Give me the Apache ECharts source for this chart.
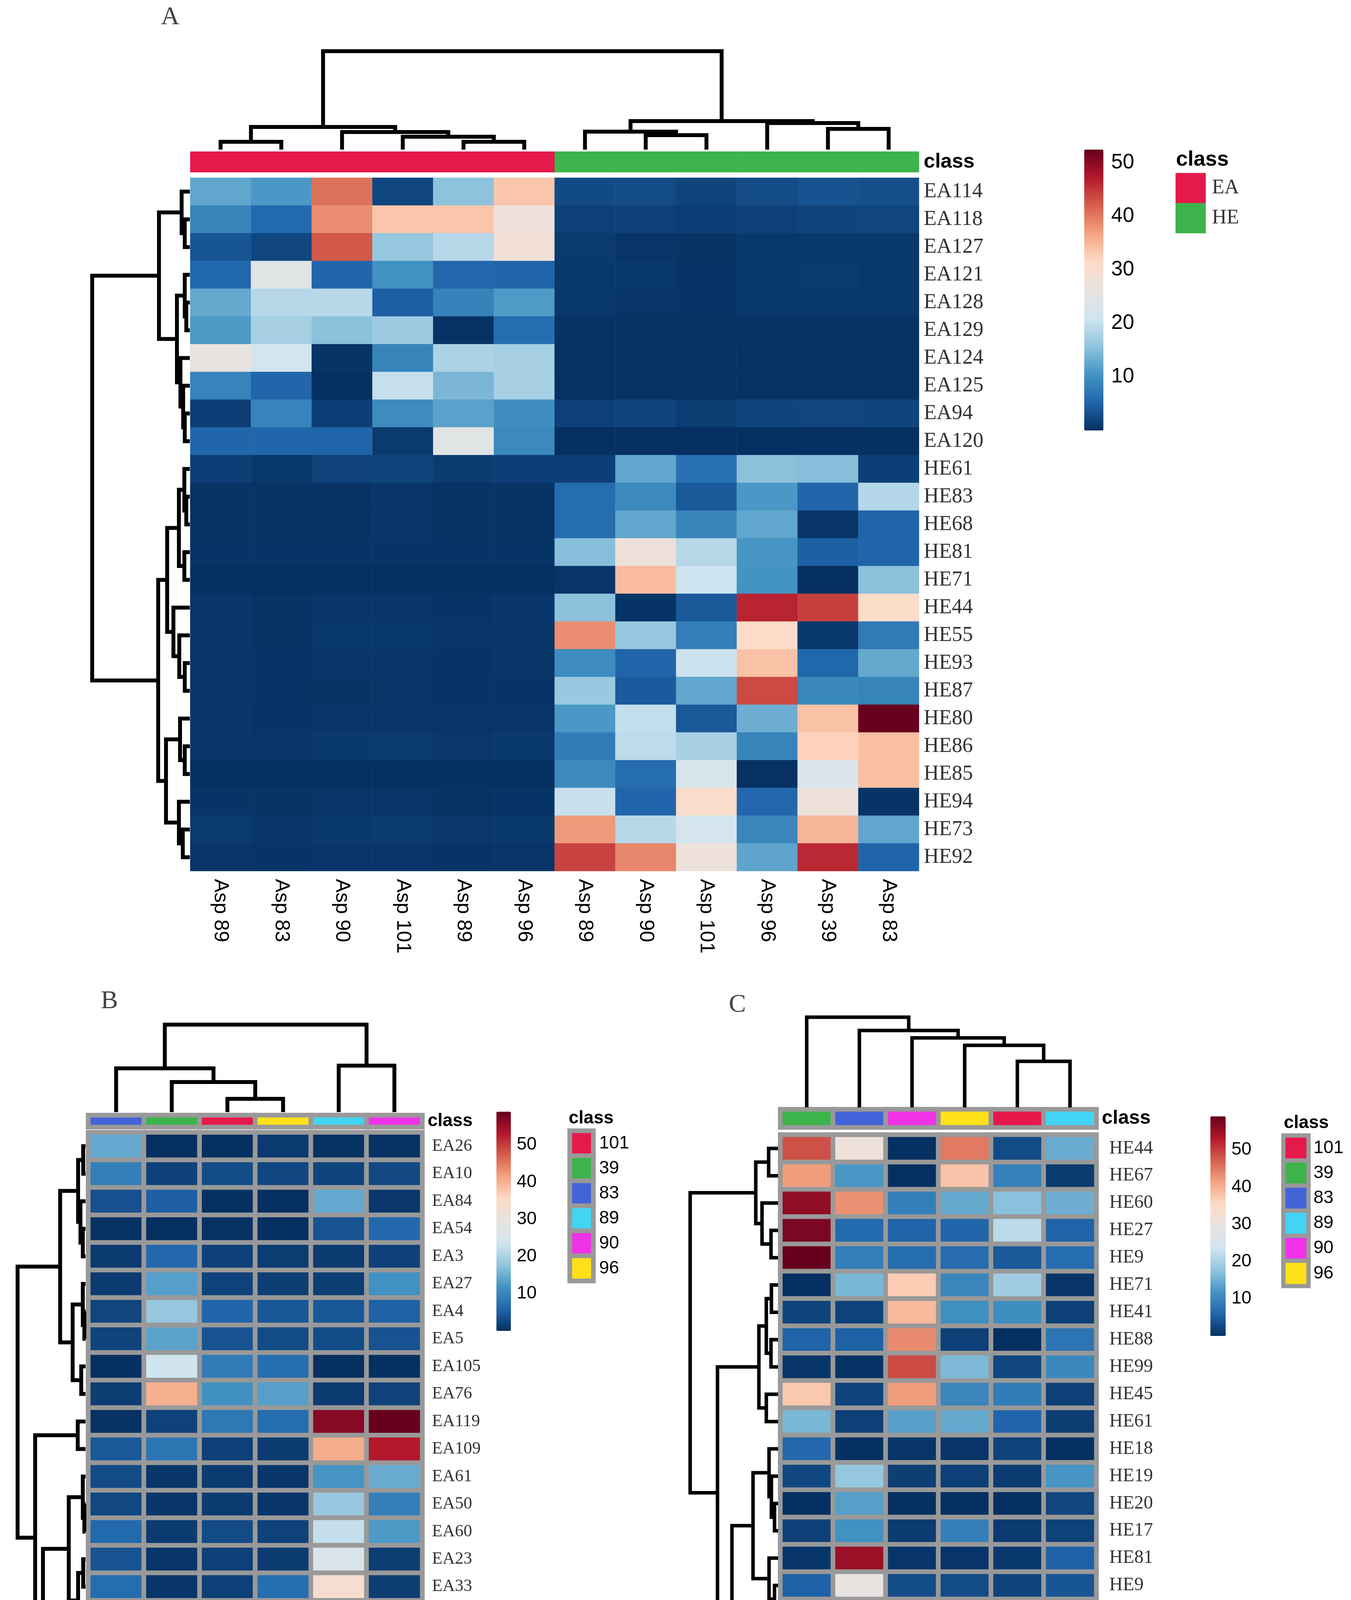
<!DOCTYPE html>
<html lang="en">
<head>
<meta charset="UTF-8">
<title>Clustered heatmaps A, B, C</title>
<script src="https://cdn.jsdelivr.net/npm/echarts/dist/echarts.min.js"></script>
<style>
  body { margin: 0; background: #fff; }
  #chart { width: 3459px; height: 4851px; }
</style>
</head>
<body>
<div id="chart"></div>
<script>
// ---------- data: panel A ----------
const rowsA = ['EA114','EA118','EA127','EA121','EA128','EA129','EA124','EA125','EA94','EA120',
  'HE61','HE83','HE68','HE81','HE71','HE44','HE55','HE93','HE87','HE80','HE86','HE85','HE94','HE73','HE92'];
const colsA = ['Asp 89','Asp 83','Asp 90','Asp 101','Asp 89','Asp 96','Asp 89','Asp 90','Asp 101','Asp 96','Asp 39','Asp 83'];
const colClassA = ['EA','EA','EA','EA','EA','EA','HE','HE','HE','HE','HE','HE'];
const classesA = ['EA','HE'];
const valuesA = [
  [12.5, 11, 40.5, 2.1, 15.5, 33.5, 2.5, 2.6, 1.8, 2.6, 3.3, 3.0],
  [8.7, 5.6, 38.5, 33.5, 33.5, 27.5, 1.6, 1.6, 1.3, 1.6, 1.9, 2.0],
  [3.6, 2.1, 42.5, 16, 18.8, 28.5, 1.0, 0.5, 0.3, 0.8, 0.8, 0.8],
  [5.3, 24.5, 5.2, 10.2, 5.4, 5.0, 0.8, 0.8, 0.4, 0.8, 1.0, 0.8],
  [12.7, 18.6, 18.8, 4.7, 8.5, 11.3, 0.8, 0.5, 0.4, 0.8, 0.8, 0.8],
  [11.1, 17.4, 15.3, 16.6, 0.2, 6.2, 0.2, 0.2, 0.2, 0.2, 0.2, 0.2],
  [26, 21.5, 0.3, 8.7, 17.8, 17.4, 0.1, 0.1, 0.1, 0.1, 0.1, 0.1],
  [8.6, 5.2, 0, 20, 14.2, 17.5, 0.1, 0.1, 0.1, 0.1, 0.1, 0.1],
  [1.4, 8.6, 1.5, 9.5, 12, 9.8, 1.6, 1.8, 1.2, 1.9, 2.0, 1.9],
  [5.2, 5.2, 5.1, 1.0, 24.5, 9.3, 0, 0, 0, 0, 0, 0],
  [1.5, 0.8, 1.7, 1.8, 1.1, 1.5, 1.5, 12.5, 6.5, 15.3, 15, 1.5],
  [0.3, 0.3, 0.3, 0.6, 0.3, 0.3, 6, 9.3, 4, 11, 5.2, 18.5],
  [0.3, 0.3, 0.3, 0.6, 0.3, 0.3, 6, 12.5, 8.7, 12.5, 0.6, 5],
  [0.4, 0.4, 0.4, 0.4, 0.4, 0.4, 15, 27.5, 18.6, 10.7, 4.7, 5],
  [0, 0, 0, 0, 0, 0, 0.5, 34.5, 20.6, 10.5, 0, 15.3],
  [0.6, 0.3, 0.6, 0.6, 0.4, 0.6, 15.3, 0.4, 4, 46.3, 44.2, 31],
  [0.6, 0.3, 0.8, 0.8, 0.5, 0.6, 38.5, 16.2, 8, 31.2, 0.8, 7.6],
  [0.5, 0.4, 0.6, 0.6, 0.4, 0.5, 9.5, 5.1, 20.5, 34, 5.3, 12.7],
  [0.5, 0.4, 0.3, 0.5, 0.4, 0.4, 16.3, 4.1, 12.5, 43.5, 9.2, 8.7],
  [0.6, 0.4, 0.6, 0.6, 0.5, 0.6, 11, 19.8, 4, 13.3, 34, 52.4],
  [0.6, 0.5, 0.9, 1.0, 0.7, 0.9, 7.9, 19.3, 17.5, 8.7, 32.3, 34.2],
  [0, 0, 0, 0, 0, 0, 9.4, 6, 22.5, 0.1, 23, 34.2],
  [0.4, 0.3, 0.5, 0.5, 0.2, 0.4, 20.2, 5.2, 30.5, 5.4, 27.5, 0.4],
  [1.0, 0.5, 0.9, 1.1, 0.7, 0.9, 37.5, 18.8, 21.6, 8.9, 35, 12.5],
  [0.5, 0.4, 0.6, 0.6, 0.4, 0.5, 44, 39, 27.7, 12.3, 46, 5.1]
];
// trees: [height, left, right], leaves are indices
const colTreeA = [252, [58, [20, 0, 1], [45, 2, [33, 3, [20, 4, 5]]]], [73, [46, 6, [37, 7, 8]], [68, 9, [53, 10, 11]]]];
const rowTreeA = [250,
  [79, [21, 0, [13, 1, 2]], [33, [13, 3, [9, 4, 5]], [24, 6, [17, 7, [13, 8, 9]]]]],
  [81, [58, [28, [14, 10, [9, 11, 12]], [14, 13, 14]], [42, 15, [27, 16, [13, 17, 18]]]],
       [61, [25, 19, [13, 20, 21]], [28, 22, [18, 23, 24]]]]];

// ---------- data: panel B ----------
const rowsB = ['EA26','EA10','EA84','EA54','EA3','EA27','EA4','EA5','EA105','EA76','EA119','EA109','EA61',
  'EA50','EA60','EA23','EA33','EA116','EA55','EA32','EA34','EA81','EA97','EA68','EA83'];
const colsB = ['Asp83','Asp39','Asp 101','Asp 96','Asp89','Asp90'];
const colClassB = ['83','39','101','96','89','90'];
const classesB = ['101','39','83','89','90','96'];
const valuesB = [
  [14.3, 0, 0.1, 1.1, 0.2, 0.2],
  [9.2, 1.9, 3.0, 2.5, 2.2, 2.7],
  [3.5, 5.1, 0.1, 0, 14.3, 0.8],
  [0.2, 0, 0.2, 0, 3.8, 6.2],
  [1.2, 6.2, 1.9, 1.3, 1.2, 1.9],
  [1.2, 13.2, 2.1, 1.5, 1.5, 11.5],
  [2.3, 18, 5.8, 4.3, 4.3, 5.4],
  [2.2, 13.6, 3.9, 2.9, 3.0, 3.8],
  [0.1, 23.5, 8.8, 7.0, 0, 0.1],
  [1.4, 40, 11.4, 13.2, 1.2, 2.0],
  [0.2, 2.0, 8.2, 6.8, 56.5, 58.9],
  [4.4, 7.8, 1.7, 1.2, 40.5, 53],
  [2.9, 0.6, 1.2, 0.7, 12, 14.7],
  [2.6, 0.6, 1.2, 0.7, 18.3, 9.1],
  [6.3, 1.2, 2.9, 2.0, 22.3, 12.6],
  [3.8, 0.7, 1.7, 1.2, 25.5, 1.4],
  [6.8, 0.7, 1.7, 7.0, 33.5, 1.4],
  [3.1, 0.6, 1.2, 0.7, 45, 0.9],
  [4.9, 0.8, 1.4, 1.2, 43.5, 13],
  [34, 0.7, 1.8, 8.5, 25.5, 22.3],
  [31, 0.4, 0.1, 0, 12.6, 9.2],
  [22.3, 1.0, 2.0, 1.6, 14.6, 12],
  [2.6, 3.0, 5.8, 25, 4.5, 41.5],
  [16, 0.9, 1.8, 9.2, 1.2, 18.4],
  [10.8, 16.7, 0, 0, 1.2, 23]
];
const colTreeB = [224, [112, 0, [77, 1, [34, 2, 3]]], [119, 4, 5]];
const rowTreeB = [174,
  [65, [19, [6, 0, 1], [13, 2, [7, 3, 4]]], [33, [7, 5, [3, 6, 7]], [11, 8, 9]]],
  [129, [20, 10, 11],
        [109, [43, [7, 12, [3, 13, 14]], [19, [6, 15, 16], [11, 17, 18]]],
              [61, [23, 19, [4, 20, 21]], [37, 22, [19, 23, 24]]]]]];

// ---------- data: panel C ----------
const rowsC = ['HE44','HE67','HE60','HE27','HE9','HE71','HE41','HE88','HE99','HE45','HE61','HE18','HE19',
  'HE20','HE17','HE81','HE9','HE21','HE73','HE92','HE93','HE40','HE74','HE54','HE66'];
const colsC = ['Asp39','Asp83','Asp90','Asp96','Asp101','Asp89'];
const colClassC = ['39','83','90','96','101','89'];
const classesC = ['101','39','83','89','90','96'];
const valuesC = [
  [48.5, 31, 0.1, 45, 3, 14.7],
  [42, 12.3, 0.1, 38, 9.5, 1.2],
  [55.8, 43, 9.2, 14.3, 17.2, 15],
  [57.4, 6.3, 5.6, 5.8, 21.5, 5.6],
  [59, 9, 6.8, 6.7, 4.5, 7],
  [0, 16, 37, 10, 19, 0.7],
  [2.2, 2.0, 39, 11.3, 11.1, 1.7],
  [5.6, 5.3, 43.5, 1.8, 0.1, 7.8],
  [0.6, 0.4, 49, 16.3, 2.5, 10.4],
  [37.5, 2.1, 42, 10, 8.8, 1.7],
  [16, 1.7, 13.4, 14.3, 5.9, 1.5],
  [6.2, 0.1, 0.5, 0.6, 2, 0],
  [2.5, 18, 1.6, 1.7, 1.2, 12],
  [0.1, 13.2, 0, 0, 0, 2.3],
  [1.8, 11.5, 1.2, 9.2, 1.2, 2],
  [0.6, 55, 0.6, 0.6, 1, 5.4],
  [5.4, 29.5, 3.1, 3.1, 2.2, 4],
  [1.6, 42, 1.2, 1.2, 4.9, 1.2],
  [1, 5.3, 5, 49, 11.6, 6.9],
  [0.5, 16, 8, 38.5, 6.9, 6.7],
  [6.2, 13.1, 4.9, 31, 18.9, 9.2],
  [1, 1.2, 5.7, 1, 0.1, 36],
  [0, 1, 6.8, 0.7, 3, 36],
  [1, 5, 5.1, 15.5, 3, 22.3],
  [5.1, 4.9, 4, 4, 21.3, 26]
];
const colTreeC = [231, 0, [197, 1, [178, 2, [159, 3, [118, 4, 5]]]]];
const rowTreeC = [225,
  [57, [24, 0, 1], [41, 2, [18, 3, 4]]],
  [155, [49, [30, [17, 5, 6], [18, 7, 8]], [30, 9, 10]],
        [118, [64, [23, 11, [17, 12, [9, 13, 14]]], [23, 15, [9, 16, 17]]],
              [103, [21, 18, [9, 19, 20]], [28, [3, 21, 22], [22, 23, 24]]]]]];

// ---------- colours ----------
const palette = ['#053061','#2166ac','#4393c3','#92c5de','#d1e5f0','#e8e3e0','#fddbc7','#f4a582','#d6604d','#b2182b','#67001f'];
const classColors = { EA: '#e6194b', HE: '#3cb44b', '101': '#e6194b', '39': '#3cb44b', '83': '#4363d8', '89': '#42d4f4', '90': '#f032e6', '96': '#ffe119' };

const SANS = 'Liberation Sans, Arial, sans-serif';
const SERIF = 'Liberation Serif, Times New Roman, serif';
const GRAY = '#999999';

const option = { animation: false, backgroundColor: '#fff', title: [], grid: [], xAxis: [], yAxis: [], series: [], visualMap: [] };

function box(b) { return { left: b[0], top: b[1], width: b[2], height: b[3] }; }

function addGrid(g, xa, ya) {
  const gi = option.grid.length;
  option.grid.push(g);
  option.xAxis.push(Object.assign({ gridIndex: gi }, xa));
  option.yAxis.push(Object.assign({ gridIndex: gi }, ya));
  return gi;
}

// flatten a tree into brackets [posA, hA, posB, hB, h]
function links(tree) {
  const out = [];
  function walk(n) {
    if (typeof n === 'number') return [n, 0];
    const a = walk(n[1]), b = walk(n[2]);
    out.push([a[0], a[1], b[0], b[1], n[0]]);
    return [(a[0] + b[0]) / 2, n[0]];
  }
  walk(tree);
  return out;
}

function dendro(isCol, lw) {
  return function (params, api) {
    const pa = api.value(0), ha = api.value(1), pb = api.value(2), hb = api.value(3), h = api.value(4);
    const pt = isCol ? (p, hh) => api.coord([p, hh]) : (p, hh) => api.coord([hh, p]);
    return {
      type: 'polyline',
      shape: { points: [pt(pa, ha), pt(pa, h), pt(pb, h), pt(pb, hb)] },
      style: { stroke: '#000', lineWidth: lw, fill: null, lineJoin: 'miter' }
    };
  };
}

const noLine = { axisLine: { show: false }, axisTick: { show: false }, splitLine: { show: false } };

function addPanel(p, L) {
  // main heatmap
  const gHeat = addGrid(box(L.heat),
    Object.assign({ type: 'category', data: p.cols, axisLabel: { interval: 0, rotate: -90, margin: L.colLab.margin, fontFamily: L.colLab.family, fontSize: L.colLab.size, color: '#000' } }, noLine),
    Object.assign({ type: 'category', data: p.rows, inverse: true, position: 'right', axisLabel: { interval: 0, margin: L.rowLab.margin, fontFamily: SERIF, fontSize: L.rowLab.size, color: '#333' } }, noLine));
  const heatData = [];
  p.values.forEach((row, r) => row.forEach((v, c) => heatData.push([c, r, v])));
  const sHeat = option.series.length;
  option.series.push({ type: 'heatmap', xAxisIndex: gHeat, yAxisIndex: gHeat, data: heatData,
    itemStyle: { borderColor: GRAY, borderWidth: L.border }, silent: true });

  // class annotation bar
  const gCls = addGrid(box(L.cls),
    { type: 'category', data: p.cols, show: false },
    Object.assign({ type: 'category', data: ['class'], position: 'right', axisLabel: { margin: L.clsLab.margin, fontFamily: SANS, fontWeight: 'bold', fontSize: L.clsLab.size, color: '#000' } }, noLine));
  const sCls = option.series.length;
  option.series.push({ type: 'heatmap', xAxisIndex: gCls, yAxisIndex: gCls,
    data: p.colClass.map((c, i) => [i, 0, p.classes.indexOf(c)]),
    itemStyle: { borderColor: GRAY, borderWidth: L.border }, silent: true });

  // column dendrogram
  const gCD = addGrid({ left: L.heat[0], top: L.colLeaf - p.colTree[0], width: L.heat[2], height: p.colTree[0] },
    { type: 'value', min: -0.5, max: p.cols.length - 0.5, show: false },
    { type: 'value', min: 0, max: p.colTree[0], show: false });
  option.series.push({ type: 'custom', xAxisIndex: gCD, yAxisIndex: gCD, data: links(p.colTree), renderItem: dendro(true, L.lineW), silent: true });

  // row dendrogram
  const gRD = addGrid({ left: L.rowLeaf - p.rowTree[0], top: L.heat[1], width: p.rowTree[0], height: L.heat[3] },
    { type: 'value', min: 0, max: p.rowTree[0], inverse: true, show: false },
    { type: 'value', min: -0.5, max: p.rows.length - 0.5, inverse: true, show: false });
  option.series.push({ type: 'custom', xAxisIndex: gRD, yAxisIndex: gRD, data: links(p.rowTree), renderItem: dendro(false, L.lineW), silent: true });

  // colour bar + its tick labels
  option.visualMap.push({ type: 'continuous', seriesIndex: sHeat, dimension: 2, min: 0, max: p.vmax,
    inRange: { color: palette }, calculable: false, hoverLink: false, show: true, orient: 'vertical',
    left: L.bar[0], top: L.bar[1], itemWidth: L.bar[2], itemHeight: L.bar[3], padding: 0 });
  addGrid(box(L.bar),
    { type: 'value', min: 0, max: 1, show: false },
    Object.assign({ type: 'value', min: 0, max: p.vmax, interval: 10, position: 'right',
      axisLabel: { margin: L.barLab.margin, fontFamily: SANS, fontSize: L.barLab.size, color: '#000',
        formatter: v => (v > 0 && v % 10 === 0) ? String(v) : '' } }, noLine));

  // class legend
  const gLeg = addGrid(box(L.leg),
    { type: 'category', data: ['class'], show: false },
    Object.assign({ type: 'category', data: p.classes, inverse: true, position: 'right',
      axisLabel: { interval: 0, margin: L.legLab.margin, fontFamily: L.legLab.family, fontSize: L.legLab.size, color: L.legLab.color } }, noLine));
  const sLeg = option.series.length;
  option.series.push({ type: 'heatmap', xAxisIndex: gLeg, yAxisIndex: gLeg,
    data: p.classes.map((c, i) => [0, i, i]),
    itemStyle: { borderColor: GRAY, borderWidth: L.legBorder }, silent: true });
  option.visualMap.push({ type: 'piecewise', show: false, seriesIndex: [sCls, sLeg], dimension: 2,
    pieces: p.classes.map((c, i) => ({ value: i, color: classColors[c] })) });

  option.title.push({ text: 'class', left: L.legTitle[0], top: L.legTitle[1], padding: 0,
    textStyle: { fontFamily: SANS, fontWeight: 'bold', fontSize: L.legTitle[2], color: '#000' } });
  option.title.push({ text: L.letter[0], left: L.letter[1], top: L.letter[2], padding: 0,
    textStyle: { fontFamily: SERIF, fontWeight: 'normal', fontSize: 66, color: '#444' } });
}

addPanel(
  { rows: rowsA, cols: colsA, colClass: colClassA, classes: classesA, values: valuesA, colTree: colTreeA, rowTree: rowTreeA, vmax: 52.4 },
  { heat: [487, 455, 1866, 1775], cls: [487, 388, 1866, 53], colLeaf: 383, rowLeaf: 486,
    bar: [2776, 383, 49, 719], leg: [3010, 443, 77, 154], border: 0, legBorder: 0, lineW: 10,
    rowLab: { size: 54, margin: 12 }, colLab: { family: SANS, size: 52, margin: 20 },
    clsLab: { size: 52, margin: 12 }, barLab: { size: 53, margin: 20 },
    legLab: { family: SERIF, size: 52, margin: 16, color: '#333' },
    legTitle: [3011, 382, 54], letter: ['A', 412, 12] });

addPanel(
  { rows: rowsB, cols: colsB, colClass: colClassB, classes: classesB, values: valuesB, colTree: colTreeB, rowTree: rowTreeB, vmax: 58.9 },
  { heat: [226, 2899, 855, 1762], cls: [226, 2855, 855, 30], colLeaf: 2847, rowLeaf: 219,
    bar: [1271, 2846, 37, 561], leg: [1459, 2895, 60, 384], border: 12, legBorder: 12, lineW: 10,
    rowLab: { size: 44, margin: 25 }, colLab: { family: SERIF, size: 44, margin: 12 },
    clsLab: { size: 46, margin: 14 }, barLab: { size: 46, margin: 15 },
    legLab: { family: SANS, size: 46, margin: 15, color: '#000' },
    legTitle: [1456, 2840, 46], letter: ['B', 258, 2531] });

addPanel(
  { rows: rowsC, cols: colsC, colClass: colClassC, classes: classesC, values: valuesC, colTree: colTreeC, rowTree: rowTreeC, vmax: 59 },
  { heat: [1998, 2905, 809, 1748], cls: [1998, 2840, 809, 46], colLeaf: 2835, rowLeaf: 1992,
    bar: [3099, 2858, 39, 562], leg: [3286, 2907, 64, 385], border: 12, legBorder: 11, lineW: 9,
    rowLab: { size: 48, margin: 33 }, colLab: { family: SERIF, size: 44, margin: 12 },
    clsLab: { size: 50, margin: 14 }, barLab: { size: 46, margin: 15 },
    legLab: { family: SANS, size: 46, margin: 13, color: '#000' },
    legTitle: [3287, 2852, 46], letter: ['C', 1866, 2540] });

const chart = echarts.init(document.getElementById('chart'));
chart.setOption(option);
</script>
</body>
</html>
